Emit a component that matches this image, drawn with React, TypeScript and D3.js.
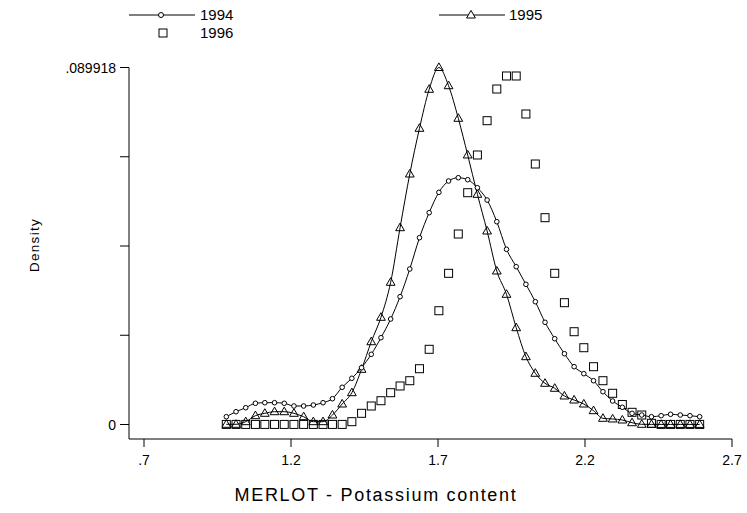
import React from "react";
import * as d3 from "d3";

// evaluation grid (potassium content)
const xGrid = [
  0.98, 1.013, 1.046, 1.079, 1.111, 1.144, 1.177, 1.21, 1.243, 1.276,
  1.309, 1.341, 1.374, 1.407, 1.44, 1.473, 1.506, 1.539, 1.571, 1.604,
  1.637, 1.67, 1.703, 1.736, 1.769, 1.801, 1.834, 1.867, 1.9, 1.933,
  1.966, 1.999, 2.031, 2.064, 2.097, 2.13, 2.163, 2.196, 2.229, 2.261,
  2.294, 2.327, 2.36, 2.393, 2.426, 2.459, 2.491, 2.524, 2.557, 2.59,
];

const d1994 = [
  0.00196, 0.00322, 0.00423, 0.00534, 0.00549, 0.00549, 0.00534, 0.00466, 0.00466, 0.00491,
  0.00549, 0.0065, 0.00937, 0.01164, 0.01431, 0.01768, 0.02186, 0.02657, 0.03219, 0.03917,
  0.04705, 0.05335, 0.05848, 0.06133, 0.06216, 0.06166, 0.05964, 0.05654, 0.05108, 0.04413,
  0.03975, 0.03531, 0.03093, 0.02574, 0.02161, 0.01783, 0.01456, 0.0128, 0.01103, 0.00826,
  0.00592, 0.00433, 0.00282, 0.00239, 0.00196, 0.00222, 0.00257, 0.00239, 0.00222, 0.00196,
];

const d1995 = [
  0.00005, 0.00005, 0.00071, 0.00222, 0.00282, 0.00322, 0.00322, 0.00282, 0.00196, 0.00071,
  0.00071, 0.00239, 0.00516, 0.00801, 0.0139, 0.02085, 0.027, 0.03582, 0.04957, 0.06309,
  0.0746, 0.08443, 0.089918, 0.08533, 0.07712, 0.06788, 0.05798, 0.04874, 0.03866, 0.03279,
  0.02438, 0.01708, 0.0129, 0.01038, 0.00912, 0.00718, 0.00617, 0.00516, 0.00348, 0.00156,
  0.00139, 0.00113, 0.00045, 0.00005, 0.00003, 0.00002, 0.00002, 0.00002, 0.00002, 0.00002,
];

const d1996 = [
  0.00002, 0.00002, 0.00002, 0.00002, 0.00002, 0.00002, 0.00002, 0.00002, 0.00002, 0.00002,
  0.00002, 0.00002, 0.00002, 0.00071, 0.00282, 0.00466, 0.00599, 0.00801, 0.0097, 0.01103,
  0.01405, 0.01894, 0.02866, 0.03808, 0.04798, 0.05838, 0.06788, 0.07652, 0.0845, 0.08778,
  0.08778, 0.07821, 0.06561, 0.05209, 0.03808, 0.03068, 0.02337, 0.01934, 0.01456, 0.01103,
  0.00786, 0.00504, 0.00307, 0.00239, 0.0003, 0.00002, 0.00002, 0.00002, 0.00002, 0.00002,
];

const xTicks = [0.7, 1.2, 1.7, 2.2, 2.7];
const xTickLabels = [".7", "1.2", "1.7", "2.2", "2.7"];
const yMax = 0.089918;
const yTicks = [0, yMax / 4, yMax / 2, (3 * yMax) / 4, yMax];
const yTickLabels = ["0", "", "", "", ".089918"];

const W = 747;
const H = 513;
const FONT = "'Liberation Sans', Arial, Helvetica, sans-serif";

const triPath = "M0,-4.6 L4.4,3 L-4.4,3 Z";

export default function App() {
  const x = d3.scaleLinear().domain([0.7, 2.7]).range([144, 732]);
  const y = d3.scaleLinear().domain([0, yMax]).range([424.5, 67.5]);

  const line = d3
    .line<number>()
    .x((_, i) => x(xGrid[i]))
    .y((d) => y(d))
    .curve(d3.curveMonotoneX);

  const axisY = 439;
  const axisX = 129;

  return (
    <div style={{ position: "absolute", left: 0, top: 0 }}>
      <svg width={W} height={H} style={{ display: "block", background: "#fff" }}>
        <rect x={0} y={0} width={W} height={H} fill="#fff" />

        {/* legend */}
        <g fontFamily={FONT} fontSize={15} fill="#000">
          <line x1={129} x2={195} y1={15} y2={15} stroke="#000" strokeWidth={1} />
          <circle cx={161} cy={15} r={2.5} fill="#fff" stroke="#000" strokeWidth={1} />
          <text x={200} y={20}>1994</text>
          <rect x={159} y={29} width={8} height={8} fill="none" stroke="#000" strokeWidth={1} />
          <text x={200} y={38}>1996</text>
          <line x1={439} x2={505} y1={15} y2={15} stroke="#000" strokeWidth={1} />
          <path d={triPath} transform={`translate(471,15)`} fill="#fff" stroke="#000" strokeWidth={1} />
          <text x={509} y={20}>1995</text>
        </g>

        {/* y axis */}
        <line x1={axisX} x2={axisX} y1={y(yMax)} y2={axisY} stroke="#000" strokeWidth={1} />
        {yTicks.map((t, i) => (
          <g key={"yt" + i}>
            <line x1={axisX - 9} x2={axisX} y1={y(t)} y2={y(t)} stroke="#000" strokeWidth={1} />
            {yTickLabels[i] && (
              <text
                x={axisX - 13}
                y={y(t) + 5}
                textAnchor="end"
                fontFamily={FONT}
                fontSize={14}
                fill="#000"
              >
                {yTickLabels[i]}
              </text>
            )}
          </g>
        ))}

        {/* x axis */}
        <line x1={axisX} x2={x(2.7)} y1={axisY} y2={axisY} stroke="#000" strokeWidth={1} />
        {xTicks.map((t, i) => (
          <g key={"xt" + i}>
            <line x1={x(t)} x2={x(t)} y1={axisY} y2={axisY + 8} stroke="#000" strokeWidth={1} />
            <text
              x={x(t)}
              y={axisY + 26}
              textAnchor="middle"
              fontFamily={FONT}
              fontSize={14}
              fill="#000"
            >
              {xTickLabels[i]}
            </text>
          </g>
        ))}

        {/* axis titles */}
        <text
          x={376}
          y={501}
          textAnchor="middle"
          fontFamily={FONT}
          fontSize={18}
          letterSpacing={1.7}
          fill="#000"
        >
          MERLOT - Potassium content
        </text>
        <text
          transform={`translate(39,245) rotate(-90)`}
          textAnchor="middle"
          fontFamily={FONT}
          fontSize={13.5}
          letterSpacing={1.3}
          fill="#000"
        >
          Density
        </text>

        {/* lines */}
        <path d={line(d1994) || ""} fill="none" stroke="#000" strokeWidth={1} />
        <path d={line(d1995) || ""} fill="none" stroke="#000" strokeWidth={1} />

        {/* markers */}
        {d1996.map((v, i) => (
          <rect
            key={"s" + i}
            x={x(xGrid[i]) - 4}
            y={y(v) - 4}
            width={8}
            height={8}
            fill="none"
            stroke="#000"
            strokeWidth={1}
          />
        ))}
        {d1995.map((v, i) => (
          <path
            key={"t" + i}
            d={triPath}
            transform={`translate(${x(xGrid[i])},${y(v)})`}
            fill="none"
            stroke="#000"
            strokeWidth={1}
          />
        ))}
        {d1994.map((v, i) => (
          <circle
            key={"c" + i}
            cx={x(xGrid[i])}
            cy={y(v)}
            r={2.3}
            fill="#fff"
            stroke="#000"
            strokeWidth={1}
          />
        ))}
      </svg>
    </div>
  );
}
